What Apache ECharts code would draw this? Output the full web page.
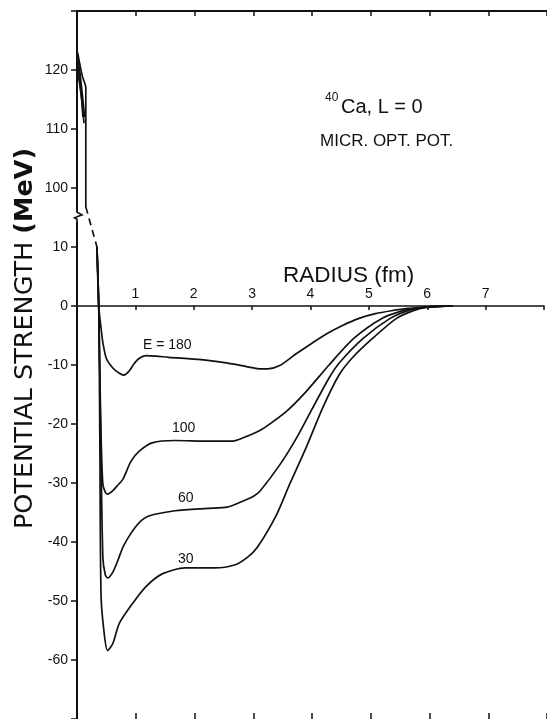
<!DOCTYPE html>
<html><head><meta charset="utf-8">
<script src="https://cdn.jsdelivr.net/npm/echarts@6/dist/echarts.min.js"></script>
<style>html,body{margin:0;padding:0;background:#fff}#c{width:547px;height:719px}</style>
</head><body><div id="c"></div>
<script>
// ---- data (radius fm, potential MeV) ----
const xTickLabels = [1, 2, 3, 4, 5, 6, 7];
const yTickLabelsLower = [-60, -50, -40, -30, -20, -10, 0, 10];
const yTickLabelsUpper = [100, 110, 120];
const BREAK_SHIFT = 80; // values above the axis break are drawn shifted down by this amount

const e180 = [[0.34,10],[0.37,0],[0.41,-3.8],[0.44,-6.2],[0.50,-8.9],[0.61,-10.5],[0.72,-11.4],[0.80,-11.7],[0.89,-11.0],[0.97,-9.8],[1.06,-8.85],[1.17,-8.4],[1.35,-8.5],[1.56,-8.7],[2.11,-9.1],[2.51,-9.6],[2.80,-10.1],[3.07,-10.6],[3.25,-10.65],[3.45,-10.1],[3.73,-8.1],[4.00,-6.3],[4.25,-4.7],[4.52,-3.3],[4.80,-2.1],[5.08,-1.3],[5.35,-0.8],[5.63,-0.4],[5.91,-0.2],[6.20,-0.05],[6.40,0]];
const e100 = [[0.34,10],[0.37,0],[0.39,-12],[0.41,-22.3],[0.44,-30.2],[0.48,-31.5],[0.52,-31.9],[0.61,-31.3],[0.70,-30.3],[0.78,-29.4],[0.92,-26.3],[1.06,-24.6],[1.28,-23.2],[1.67,-22.8],[2.23,-22.9],[2.65,-22.9],[2.84,-22.3],[3.07,-21.3],[3.18,-20.7],[3.57,-17.8],[3.90,-14.5],[4.29,-10.0],[4.71,-5.5],[5.19,-2.1],[5.58,-0.7],[5.85,-0.25],[6.10,-0.05],[6.35,0]];
const e60 = [[0.34,10],[0.37,0],[0.40,-20],[0.44,-42.6],[0.48,-45.5],[0.52,-46.1],[0.61,-45.1],[0.70,-43.0],[0.78,-40.9],[0.92,-38.5],[1.06,-36.7],[1.22,-35.6],[1.67,-34.7],[2.23,-34.3],[2.56,-34.1],[2.84,-33.0],[3.01,-32.2],[3.12,-31.3],[3.46,-26.8],[3.74,-22.3],[4.01,-17.3],[4.29,-12.2],[4.46,-9.7],[4.87,-5.5],[5.33,-2.1],[5.66,-0.7],[5.90,-0.25],[6.15,-0.05],[6.35,0]];
const e30 = [[0.34,10],[0.37,0],[0.39,-25],[0.41,-49.3],[0.47,-56.1],[0.52,-58.4],[0.61,-57.2],[0.72,-53.8],[0.94,-50.5],[1.17,-47.6],[1.45,-45.4],[1.84,-44.4],[2.34,-44.4],[2.68,-43.9],[2.90,-42.6],[3.07,-40.9],[3.40,-35.3],[3.62,-30.2],[3.90,-24.0],[4.18,-17.3],[4.46,-11.7],[4.68,-8.85],[5.03,-5.5],[5.44,-2.1],[5.75,-0.7],[5.95,-0.25],[6.20,-0.05],[6.40,0]];
const upperA = [[0.01,123],[0.09,119],[0.15,117],[0.15,96.8]];
const upperB = [[0.01,122],[0.05,119.5],[0.11,114],[0.13,112]];
const upperC = [[0.01,121],[0.06,117],[0.10,113],[0.12,111]];
const upperD = [[0.01,120],[0.04,118],[0.08,115],[0.10,112]];
const dashedLink = [[0.15,96.8],[0.34,10]];
const curveLabels = ['E = 180', '100', '60', '30'];

// ---- build ----
const toAxis = v => v > 50 ? v - BREAK_SHIFT : v;
const tr = arr => arr.map(p => [p[0], toAxis(p[1])]);
const FONT = 'Liberation Sans';
const BLACK = '#111';

const chart = echarts.init(document.getElementById('c'), null, {renderer: 'canvas'});
const lineSeries = (data, dashed) => ({
  type: 'line', xAxisIndex: 0, yAxisIndex: 0, data: tr(data),
  showSymbol: false, symbol: 'none', smooth: dashed ? false : 0.25,
  lineStyle: {color: BLACK, width: 1.7, type: dashed ? [7, 5] : 'solid'},
  animation: false, silent: true, clip: true
});

const yFormatter = v => {
  if (yTickLabelsLower.includes(v)) return String(v);
  if (yTickLabelsUpper.includes(v + BREAK_SHIFT)) return String(v + BREAK_SHIFT);
  return '';
};

const gridRect = {left: 77, top: 11, width: 478, height: 711.5};
const option = {
  backgroundColor: '#fff',
  animation: false,
  grid: [Object.assign({}, gridRect), Object.assign({}, gridRect)],
  xAxis: [
    {gridIndex: 0, type: 'value', min: 0, max: 8, interval: 1, position: 'top',
     axisLine: {onZero: false, lineStyle: {color: BLACK, width: 2}},
     axisTick: {inside: true, length: 5, lineStyle: {color: BLACK, width: 1.5}},
     axisLabel: {show: false}, splitLine: {show: false}},
    {gridIndex: 0, type: 'value', min: 0, max: 8, interval: 1, position: 'bottom',
     axisLine: {show: false, onZero: false},
     axisTick: {show: true, inside: true, length: 6, lineStyle: {color: BLACK, width: 1.5}},
     axisLabel: {show: false}, splitLine: {show: false}},
    {gridIndex: 1, type: 'value', min: 0, max: 8, interval: 1, position: 'bottom',
     axisLine: {onZero: false, lineStyle: {color: BLACK, width: 1.6}},
     axisTick: {inside: false, length: 4, lineStyle: {color: BLACK, width: 1.5}},
     axisLabel: {inside: true, margin: 5, color: BLACK, fontSize: 14, fontFamily: FONT,
       formatter: v => xTickLabels.includes(v) ? String(v) : ''},
     splitLine: {show: false}}
  ],
  yAxis: [
    {gridIndex: 0, type: 'value', min: -70, max: 50, interval: 10, position: 'left',
     axisLine: {onZero: false, lineStyle: {color: BLACK, width: 2}},
     axisTick: {inside: false, length: 6, lineStyle: {color: BLACK, width: 1.5}},
     axisLabel: {margin: 9, color: BLACK, fontSize: 14, fontFamily: FONT, formatter: yFormatter},
     splitLine: {show: false}},
    {gridIndex: 1, type: 'value', min: 0, max: 50, interval: 10, show: false}
  ],
  series: [
    lineSeries(e180), lineSeries(e100), lineSeries(e60), lineSeries(e30),
    lineSeries(upperA), lineSeries(upperB), lineSeries(upperC), lineSeries(upperD),
    lineSeries(dashedLink, true)
  ]
};
chart.setOption(option);

// second grid ends exactly at the y = 0 line of the main scale: its bottom axis is the zero axis
const zeroY = chart.convertToPixel({yAxisIndex: 0}, 0);
chart.setOption({grid: [{}, {left: 77, top: 11, width: 478, height: zeroY - 11}]});

// break mark on the y axis at the seam between the two ranges
const seamY = chart.convertToPixel({yAxisIndex: 0}, 15.2);
const axX = chart.convertToPixel({xAxisIndex: 0}, 0);
const txt = (text, x, y, size, extra) => ({type: 'text', x, y, silent: true,
  style: Object.assign({text, fill: BLACK, font: size + 'px "' + FONT + '"', align: 'left', verticalAlign: 'middle'}, extra || {})});

chart.setOption({graphic: [
  {type: 'rect', shape: {x: axX - 3, y: seamY - 5, width: 6, height: 10}, style: {fill: '#fff'}, z: 50, silent: true},
  {type: 'polyline', z: 51, silent: true, shape: {points: [[axX, seamY - 6], [axX, seamY - 4], [axX + 5, seamY - 1.5], [axX - 2.5, seamY + 1.5], [axX, seamY + 3], [axX, seamY + 6]]},
   style: {stroke: BLACK, lineWidth: 1.6, fill: null}},
  txt('RADIUS (fm)', 283, 276, 22.5),
  txt('40', 325, 98, 12),
  txt('Ca, L = 0', 341, 107.5, 20),
  txt('MICR. OPT. POT.', 320, 141, 17),
  txt(curveLabels[0], 143, 345.5, 14),
  txt(curveLabels[1], 172, 428.5, 14),
  txt(curveLabels[2], 178, 498.5, 14),
  txt(curveLabels[3], 178, 559.5, 14),
  {type: 'text', x: 25, y: 338.5, rotation: Math.PI / 2, silent: true,
   style: {text: '{a|POTENTIAL STRENGTH }{b|(MeV)}', align: 'center', verticalAlign: 'middle',
     rich: {a: {fontSize: 25.5, fontFamily: 'DejaVu Sans', fill: BLACK, color: BLACK},
            b: {fontSize: 25.5, fontFamily: 'DejaVu Sans', fontWeight: 'bold', fill: BLACK, color: BLACK}}}}
]});
</script></body></html>
